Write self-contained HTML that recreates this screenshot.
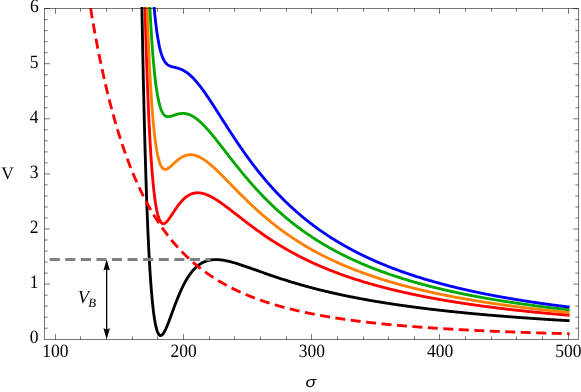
<!DOCTYPE html>
<html><head><meta charset="utf-8"><title>V(sigma)</title>
<style>
html,body{margin:0;padding:0;background:#fff;}
body{width:581px;height:392px;overflow:hidden;}
svg{display:block;}
text{font-family:"Liberation Serif",serif;fill:#000;text-rendering:geometricPrecision;}
#txt{filter:grayscale(1);}
.tl{font-size:18.8px;}
</style></head><body>
<svg width="581" height="392" viewBox="0 0 581 392">
<rect x="0" y="0" width="581" height="392" fill="#ffffff"/>
<defs><clipPath id="cp"><rect x="44.50" y="7.10" width="534.00" height="332.40"/></clipPath></defs>
<g clip-path="url(#cp)" fill="none" stroke-linejoin="round" stroke-linecap="butt">
<path d="M141.38 -23.76 L142.12 18.39 L142.85 56.41 L143.59 90.65 L144.32 121.44 L145.06 149.07 L145.80 173.81 L146.53 195.92 L147.27 215.62 L148.00 233.14 L148.74 248.65 L149.47 262.36 L150.21 274.41 L150.95 284.96 L151.68 294.16 L152.42 302.12 L153.15 308.97 L153.89 314.82 L154.62 319.75 L155.36 323.86 L156.10 327.23 L156.83 329.94 L157.57 332.04 L158.30 333.59 L159.04 334.66 L159.78 335.29 L160.51 335.52 L161.25 335.40 L161.98 334.96 L162.72 334.25 L163.45 333.29 L164.19 332.12 L164.93 330.77 L165.66 329.26 L166.40 327.63 L167.13 325.88 L167.87 324.05 L168.60 322.16 L169.34 320.21 L170.08 318.23 L170.81 316.23 L171.55 314.22 L172.28 312.21 L173.02 310.21 L173.75 308.22 L174.49 306.26 L175.23 304.31 L175.96 302.40 L176.70 300.52 L177.43 298.68 L178.17 296.87 L178.90 295.11 L179.64 293.39 L180.38 291.71 L181.11 290.08 L181.85 288.50 L182.58 286.96 L183.32 285.47 L184.05 284.04 L184.79 282.65 L185.53 281.31 L186.26 280.02 L187.00 278.77 L187.73 277.58 L188.47 276.43 L189.20 275.34 L189.94 274.28 L190.68 273.28 L191.41 272.32 L192.15 271.40 L192.88 270.53 L193.62 269.70 L194.35 268.91 L195.09 268.16 L195.83 267.46 L196.56 266.79 L197.30 266.15 L198.03 265.56 L198.77 265.00 L199.51 264.47 L200.24 263.98 L200.98 263.51 L201.71 263.08 L202.45 262.68 L203.18 262.31 L203.92 261.97 L204.66 261.65 L205.39 261.37 L206.13 261.10 L206.86 260.86 L207.60 260.65 L208.33 260.45 L209.07 260.28 L209.81 260.13 L210.54 260.00 L211.28 259.89 L212.01 259.80 L212.75 259.72 L213.48 259.66 L214.22 259.62 L214.96 259.60 L215.69 259.59 L216.43 259.59 L217.16 259.61 L217.90 259.64 L218.63 259.69 L219.37 259.75 L220.11 259.82 L220.84 259.90 L221.58 259.99 L222.31 260.09 L223.05 260.20 L223.78 260.32 L224.52 260.44 L225.26 260.58 L225.99 260.73 L226.73 260.88 L227.46 261.04 L228.20 261.20 L228.93 261.38 L229.67 261.56 L230.41 261.74 L231.14 261.93 L231.88 262.13 L232.61 262.33 L233.35 262.54 L234.08 262.75 L234.82 262.96 L235.56 263.18 L236.29 263.40 L237.03 263.63 L237.76 263.86 L238.50 264.09 L239.24 264.32 L239.97 264.56 L240.71 264.80 L241.44 265.04 L242.18 265.29 L242.91 265.53 L243.65 265.78 L244.39 266.03 L245.12 266.28 L245.86 266.54 L246.59 266.79 L247.33 267.05 L248.06 267.30 L248.80 267.56 L249.54 267.82 L250.27 268.08 L251.01 268.34 L251.74 268.60 L252.48 268.86 L253.21 269.12 L253.95 269.38 L254.69 269.64 L255.42 269.91 L256.16 270.17 L256.89 270.43 L257.63 270.69 L258.36 270.95 L259.10 271.22 L259.84 271.48 L260.57 271.74 L261.31 272.00 L262.04 272.26 L262.78 272.52 L263.51 272.78 L264.25 273.04 L264.99 273.30 L265.72 273.55 L266.46 273.81 L267.19 274.07 L267.93 274.32 L268.66 274.58 L269.40 274.83 L270.14 275.09 L270.87 275.34 L271.61 275.59 L272.34 275.84 L273.08 276.09 L273.81 276.34 L274.55 276.59 L275.29 276.84 L276.02 277.08 L276.76 277.33 L277.49 277.57 L278.23 277.82 L278.97 278.06 L279.70 278.30 L280.44 278.54 L281.17 278.78 L281.91 279.02 L282.64 279.26 L283.38 279.50 L284.12 279.73 L284.85 279.97 L285.59 280.20 L286.32 280.43 L287.06 280.66 L287.79 280.89 L288.53 281.12 L289.27 281.35 L290.00 281.58 L290.74 281.80 L291.47 282.03 L292.21 282.25 L292.94 282.47 L293.68 282.69 L294.42 282.91 L295.15 283.13 L295.89 283.35 L296.62 283.57 L297.36 283.78 L298.09 284.00 L298.83 284.21 L299.57 284.42 L300.30 284.63 L301.04 284.85 L301.77 285.05 L302.51 285.26 L303.24 285.47 L303.98 285.68 L304.72 285.88 L305.45 286.08 L306.19 286.29 L306.92 286.49 L307.66 286.69 L308.39 286.89 L309.13 287.09 L309.87 287.29 L310.60 287.48 L311.34 287.68 L312.07 287.87 L312.81 288.07 L313.54 288.26 L314.28 288.45 L315.02 288.64 L315.75 288.83 L316.49 289.02 L317.22 289.20 L317.96 289.39 L318.70 289.58 L319.43 289.76 L320.17 289.94 L320.90 290.13 L321.64 290.31 L322.37 290.49 L323.11 290.67 L323.85 290.85 L324.58 291.02 L325.32 291.20 L326.05 291.38 L326.79 291.55 L327.52 291.73 L328.26 291.90 L329.00 292.07 L329.73 292.24 L330.47 292.41 L331.20 292.58 L331.94 292.75 L332.67 292.92 L333.41 293.08 L334.15 293.25 L334.88 293.42 L335.62 293.58 L336.35 293.74 L337.09 293.90 L337.82 294.07 L338.56 294.23 L339.30 294.39 L340.03 294.55 L340.77 294.70 L341.50 294.86 L342.24 295.02 L342.97 295.17 L343.71 295.33 L344.45 295.48 L345.18 295.64 L345.92 295.79 L346.65 295.94 L347.39 296.09 L348.12 296.24 L348.86 296.39 L349.60 296.54 L350.33 296.69 L351.07 296.83 L351.80 296.98 L352.54 297.13 L353.27 297.27 L354.01 297.42 L354.75 297.56 L355.48 297.70 L356.22 297.84 L356.95 297.99 L357.69 298.13 L358.43 298.27 L359.16 298.40 L359.90 298.54 L360.63 298.68 L361.37 298.82 L362.10 298.95 L362.84 299.09 L363.58 299.22 L364.31 299.36 L365.05 299.49 L365.78 299.63 L366.52 299.76 L367.25 299.89 L367.99 300.02 L368.73 300.15 L369.46 300.28 L370.20 300.41 L370.93 300.54 L371.67 300.67 L372.40 300.79 L373.14 300.92 L373.88 301.04 L374.61 301.17 L375.35 301.29 L376.08 301.42 L376.82 301.54 L377.55 301.67 L378.29 301.79 L379.03 301.91 L379.76 302.03 L380.50 302.15 L381.23 302.27 L381.97 302.39 L382.70 302.51 L383.44 302.63 L384.18 302.74 L384.91 302.86 L385.65 302.98 L386.38 303.09 L387.12 303.21 L387.85 303.32 L388.59 303.44 L389.33 303.55 L390.06 303.66 L390.80 303.78 L391.53 303.89 L392.27 304.00 L393.00 304.11 L393.74 304.22 L394.48 304.33 L395.21 304.44 L395.95 304.55 L396.68 304.66 L397.42 304.77 L398.16 304.87 L398.89 304.98 L399.63 305.09 L400.36 305.19 L401.10 305.30 L401.83 305.40 L402.57 305.51 L403.31 305.61 L404.04 305.72 L404.78 305.82 L405.51 305.92 L406.25 306.02 L406.98 306.13 L407.72 306.23 L408.46 306.33 L409.19 306.43 L409.93 306.53 L410.66 306.63 L411.40 306.73 L412.13 306.82 L412.87 306.92 L413.61 307.02 L414.34 307.12 L415.08 307.21 L415.81 307.31 L416.55 307.41 L417.28 307.50 L418.02 307.60 L418.76 307.69 L419.49 307.78 L420.23 307.88 L420.96 307.97 L421.70 308.06 L422.43 308.16 L423.17 308.25 L423.91 308.34 L424.64 308.43 L425.38 308.52 L426.11 308.61 L426.85 308.70 L427.58 308.79 L428.32 308.88 L429.06 308.97 L429.79 309.06 L430.53 309.15 L431.26 309.23 L432.00 309.32 L432.73 309.41 L433.47 309.49 L434.21 309.58 L434.94 309.67 L435.68 309.75 L436.41 309.84 L437.15 309.92 L437.88 310.01 L438.62 310.09 L439.36 310.17 L440.09 310.26 L440.83 310.34 L441.56 310.42 L442.30 310.50 L443.04 310.59 L443.77 310.67 L444.51 310.75 L445.24 310.83 L445.98 310.91 L446.71 310.99 L447.45 311.07 L448.19 311.15 L448.92 311.23 L449.66 311.31 L450.39 311.38 L451.13 311.46 L451.86 311.54 L452.60 311.62 L453.34 311.69 L454.07 311.77 L454.81 311.85 L455.54 311.92 L456.28 312.00 L457.01 312.08 L457.75 312.15 L458.49 312.23 L459.22 312.30 L459.96 312.37 L460.69 312.45 L461.43 312.52 L462.16 312.60 L462.90 312.67 L463.64 312.74 L464.37 312.81 L465.11 312.89 L465.84 312.96 L466.58 313.03 L467.31 313.10 L468.05 313.17 L468.79 313.24 L469.52 313.31 L470.26 313.38 L470.99 313.45 L471.73 313.52 L472.46 313.59 L473.20 313.66 L473.94 313.73 L474.67 313.80 L475.41 313.86 L476.14 313.93 L476.88 314.00 L477.61 314.07 L478.35 314.13 L479.09 314.20 L479.82 314.27 L480.56 314.33 L481.29 314.40 L482.03 314.47 L482.77 314.53 L483.50 314.60 L484.24 314.66 L484.97 314.73 L485.71 314.79 L486.44 314.85 L487.18 314.92 L487.92 314.98 L488.65 315.05 L489.39 315.11 L490.12 315.17 L490.86 315.23 L491.59 315.30 L492.33 315.36 L493.07 315.42 L493.80 315.48 L494.54 315.54 L495.27 315.61 L496.01 315.67 L496.74 315.73 L497.48 315.79 L498.22 315.85 L498.95 315.91 L499.69 315.97 L500.42 316.03 L501.16 316.09 L501.89 316.15 L502.63 316.20 L503.37 316.26 L504.10 316.32 L504.84 316.38 L505.57 316.44 L506.31 316.50 L507.04 316.55 L507.78 316.61 L508.52 316.67 L509.25 316.72 L509.99 316.78 L510.72 316.84 L511.46 316.89 L512.19 316.95 L512.93 317.01 L513.67 317.06 L514.40 317.12 L515.14 317.17 L515.87 317.23 L516.61 317.28 L517.34 317.34 L518.08 317.39 L518.82 317.45 L519.55 317.50 L520.29 317.55 L521.02 317.61 L521.76 317.66 L522.50 317.71 L523.23 317.77 L523.97 317.82 L524.70 317.87 L525.44 317.92 L526.17 317.98 L526.91 318.03 L527.65 318.08 L528.38 318.13 L529.12 318.18 L529.85 318.23 L530.59 318.29 L531.32 318.34 L532.06 318.39 L532.80 318.44 L533.53 318.49 L534.27 318.54 L535.00 318.59 L535.74 318.64 L536.47 318.69 L537.21 318.74 L537.95 318.79 L538.68 318.84 L539.42 318.88 L540.15 318.93 L540.89 318.98 L541.62 319.03 L542.36 319.08 L543.10 319.13 L543.83 319.17 L544.57 319.22 L545.30 319.27 L546.04 319.32 L546.77 319.36 L547.51 319.41 L548.25 319.46 L548.98 319.50 L549.72 319.55 L550.45 319.60 L551.19 319.64 L551.92 319.69 L552.66 319.74 L553.40 319.78 L554.13 319.83 L554.87 319.87 L555.60 319.92 L556.34 319.96 L557.07 320.01 L557.81 320.05 L558.55 320.10 L559.28 320.14 L560.02 320.19 L560.75 320.23 L561.49 320.27 L562.23 320.32 L562.96 320.36 L563.70 320.40 L564.43 320.45 L565.17 320.49 L565.90 320.53 L566.64 320.58 L567.38 320.62 L568.11 320.66 L568.85 320.70 L569.58 320.75" stroke="#000000" stroke-width="2.85"/>
<path d="M144.32 -19.73 L145.06 9.33 L145.80 35.47 L146.53 58.97 L147.27 80.04 L148.00 98.90 L148.74 115.75 L149.47 130.77 L150.21 144.12 L150.95 155.95 L151.68 166.41 L152.42 175.62 L153.15 183.71 L153.89 190.76 L154.62 196.90 L155.36 202.19 L156.10 206.73 L156.83 210.59 L157.57 213.83 L158.30 216.51 L159.04 218.68 L159.78 220.41 L160.51 221.72 L161.25 222.67 L161.98 223.29 L162.72 223.62 L163.45 223.70 L164.19 223.54 L164.93 223.20 L165.66 222.68 L166.40 222.02 L167.13 221.24 L167.87 220.37 L168.60 219.42 L169.34 218.41 L170.08 217.35 L170.81 216.26 L171.55 215.15 L172.28 214.03 L173.02 212.91 L173.75 211.79 L174.49 210.68 L175.23 209.59 L175.96 208.51 L176.70 207.46 L177.43 206.43 L178.17 205.44 L178.90 204.47 L179.64 203.54 L180.38 202.64 L181.11 201.78 L181.85 200.96 L182.58 200.18 L183.32 199.44 L184.05 198.74 L184.79 198.08 L185.53 197.46 L186.26 196.88 L187.00 196.34 L187.73 195.84 L188.47 195.38 L189.20 194.97 L189.94 194.59 L190.68 194.25 L191.41 193.95 L192.15 193.68 L192.88 193.45 L193.62 193.26 L194.35 193.10 L195.09 192.97 L195.83 192.88 L196.56 192.82 L197.30 192.79 L198.03 192.79 L198.77 192.82 L199.51 192.87 L200.24 192.96 L200.98 193.07 L201.71 193.20 L202.45 193.36 L203.18 193.54 L203.92 193.75 L204.66 193.97 L205.39 194.22 L206.13 194.48 L206.86 194.77 L207.60 195.07 L208.33 195.39 L209.07 195.73 L209.81 196.08 L210.54 196.45 L211.28 196.83 L212.01 197.22 L212.75 197.63 L213.48 198.05 L214.22 198.48 L214.96 198.92 L215.69 199.38 L216.43 199.84 L217.16 200.31 L217.90 200.79 L218.63 201.28 L219.37 201.78 L220.11 202.28 L220.84 202.79 L221.58 203.31 L222.31 203.83 L223.05 204.36 L223.78 204.90 L224.52 205.44 L225.26 205.98 L225.99 206.53 L226.73 207.08 L227.46 207.63 L228.20 208.19 L228.93 208.75 L229.67 209.31 L230.41 209.87 L231.14 210.44 L231.88 211.01 L232.61 211.58 L233.35 212.15 L234.08 212.72 L234.82 213.29 L235.56 213.86 L236.29 214.44 L237.03 215.01 L237.76 215.58 L238.50 216.16 L239.24 216.73 L239.97 217.30 L240.71 217.87 L241.44 218.45 L242.18 219.02 L242.91 219.58 L243.65 220.15 L244.39 220.72 L245.12 221.29 L245.86 221.85 L246.59 222.41 L247.33 222.97 L248.06 223.53 L248.80 224.09 L249.54 224.64 L250.27 225.20 L251.01 225.75 L251.74 226.30 L252.48 226.84 L253.21 227.39 L253.95 227.93 L254.69 228.47 L255.42 229.01 L256.16 229.55 L256.89 230.08 L257.63 230.61 L258.36 231.14 L259.10 231.66 L259.84 232.19 L260.57 232.71 L261.31 233.23 L262.04 233.74 L262.78 234.25 L263.51 234.76 L264.25 235.27 L264.99 235.78 L265.72 236.28 L266.46 236.78 L267.19 237.27 L267.93 237.77 L268.66 238.26 L269.40 238.75 L270.14 239.23 L270.87 239.71 L271.61 240.19 L272.34 240.67 L273.08 241.14 L273.81 241.62 L274.55 242.08 L275.29 242.55 L276.02 243.01 L276.76 243.47 L277.49 243.93 L278.23 244.39 L278.97 244.84 L279.70 245.29 L280.44 245.73 L281.17 246.18 L281.91 246.62 L282.64 247.06 L283.38 247.49 L284.12 247.92 L284.85 248.35 L285.59 248.78 L286.32 249.21 L287.06 249.63 L287.79 250.05 L288.53 250.46 L289.27 250.88 L290.00 251.29 L290.74 251.70 L291.47 252.11 L292.21 252.51 L292.94 252.91 L293.68 253.31 L294.42 253.71 L295.15 254.10 L295.89 254.49 L296.62 254.88 L297.36 255.27 L298.09 255.65 L298.83 256.03 L299.57 256.41 L300.30 256.79 L301.04 257.16 L301.77 257.54 L302.51 257.91 L303.24 258.27 L303.98 258.64 L304.72 259.00 L305.45 259.36 L306.19 259.72 L306.92 260.07 L307.66 260.43 L308.39 260.78 L309.13 261.13 L309.87 261.48 L310.60 261.82 L311.34 262.16 L312.07 262.50 L312.81 262.84 L313.54 263.18 L314.28 263.51 L315.02 263.84 L315.75 264.17 L316.49 264.50 L317.22 264.83 L317.96 265.15 L318.70 265.47 L319.43 265.79 L320.17 266.11 L320.90 266.43 L321.64 266.74 L322.37 267.05 L323.11 267.36 L323.85 267.67 L324.58 267.98 L325.32 268.28 L326.05 268.58 L326.79 268.88 L327.52 269.18 L328.26 269.48 L329.00 269.77 L329.73 270.07 L330.47 270.36 L331.20 270.65 L331.94 270.93 L332.67 271.22 L333.41 271.51 L334.15 271.79 L334.88 272.07 L335.62 272.35 L336.35 272.63 L337.09 272.90 L337.82 273.18 L338.56 273.45 L339.30 273.72 L340.03 273.99 L340.77 274.26 L341.50 274.52 L342.24 274.79 L342.97 275.05 L343.71 275.31 L344.45 275.57 L345.18 275.83 L345.92 276.09 L346.65 276.34 L347.39 276.59 L348.12 276.85 L348.86 277.10 L349.60 277.35 L350.33 277.59 L351.07 277.84 L351.80 278.09 L352.54 278.33 L353.27 278.57 L354.01 278.81 L354.75 279.05 L355.48 279.29 L356.22 279.53 L356.95 279.76 L357.69 279.99 L358.43 280.23 L359.16 280.46 L359.90 280.69 L360.63 280.92 L361.37 281.14 L362.10 281.37 L362.84 281.59 L363.58 281.82 L364.31 282.04 L365.05 282.26 L365.78 282.48 L366.52 282.70 L367.25 282.91 L367.99 283.13 L368.73 283.34 L369.46 283.56 L370.20 283.77 L370.93 283.98 L371.67 284.19 L372.40 284.40 L373.14 284.61 L373.88 284.81 L374.61 285.02 L375.35 285.22 L376.08 285.43 L376.82 285.63 L377.55 285.83 L378.29 286.03 L379.03 286.23 L379.76 286.42 L380.50 286.62 L381.23 286.82 L381.97 287.01 L382.70 287.20 L383.44 287.39 L384.18 287.59 L384.91 287.78 L385.65 287.96 L386.38 288.15 L387.12 288.34 L387.85 288.53 L388.59 288.71 L389.33 288.89 L390.06 289.08 L390.80 289.26 L391.53 289.44 L392.27 289.62 L393.00 289.80 L393.74 289.98 L394.48 290.15 L395.21 290.33 L395.95 290.51 L396.68 290.68 L397.42 290.85 L398.16 291.03 L398.89 291.20 L399.63 291.37 L400.36 291.54 L401.10 291.71 L401.83 291.88 L402.57 292.04 L403.31 292.21 L404.04 292.37 L404.78 292.54 L405.51 292.70 L406.25 292.87 L406.98 293.03 L407.72 293.19 L408.46 293.35 L409.19 293.51 L409.93 293.67 L410.66 293.83 L411.40 293.98 L412.13 294.14 L412.87 294.29 L413.61 294.45 L414.34 294.60 L415.08 294.76 L415.81 294.91 L416.55 295.06 L417.28 295.21 L418.02 295.36 L418.76 295.51 L419.49 295.66 L420.23 295.81 L420.96 295.95 L421.70 296.10 L422.43 296.25 L423.17 296.39 L423.91 296.54 L424.64 296.68 L425.38 296.82 L426.11 296.96 L426.85 297.10 L427.58 297.25 L428.32 297.39 L429.06 297.52 L429.79 297.66 L430.53 297.80 L431.26 297.94 L432.00 298.07 L432.73 298.21 L433.47 298.35 L434.21 298.48 L434.94 298.61 L435.68 298.75 L436.41 298.88 L437.15 299.01 L437.88 299.14 L438.62 299.27 L439.36 299.40 L440.09 299.53 L440.83 299.66 L441.56 299.79 L442.30 299.92 L443.04 300.05 L443.77 300.17 L444.51 300.30 L445.24 300.42 L445.98 300.55 L446.71 300.67 L447.45 300.79 L448.19 300.92 L448.92 301.04 L449.66 301.16 L450.39 301.28 L451.13 301.40 L451.86 301.52 L452.60 301.64 L453.34 301.76 L454.07 301.88 L454.81 302.00 L455.54 302.11 L456.28 302.23 L457.01 302.35 L457.75 302.46 L458.49 302.58 L459.22 302.69 L459.96 302.81 L460.69 302.92 L461.43 303.03 L462.16 303.15 L462.90 303.26 L463.64 303.37 L464.37 303.48 L465.11 303.59 L465.84 303.70 L466.58 303.81 L467.31 303.92 L468.05 304.03 L468.79 304.13 L469.52 304.24 L470.26 304.35 L470.99 304.45 L471.73 304.56 L472.46 304.67 L473.20 304.77 L473.94 304.88 L474.67 304.98 L475.41 305.08 L476.14 305.19 L476.88 305.29 L477.61 305.39 L478.35 305.49 L479.09 305.59 L479.82 305.69 L480.56 305.80 L481.29 305.90 L482.03 305.99 L482.77 306.09 L483.50 306.19 L484.24 306.29 L484.97 306.39 L485.71 306.49 L486.44 306.58 L487.18 306.68 L487.92 306.77 L488.65 306.87 L489.39 306.97 L490.12 307.06 L490.86 307.15 L491.59 307.25 L492.33 307.34 L493.07 307.44 L493.80 307.53 L494.54 307.62 L495.27 307.71 L496.01 307.80 L496.74 307.90 L497.48 307.99 L498.22 308.08 L498.95 308.17 L499.69 308.26 L500.42 308.35 L501.16 308.43 L501.89 308.52 L502.63 308.61 L503.37 308.70 L504.10 308.79 L504.84 308.87 L505.57 308.96 L506.31 309.05 L507.04 309.13 L507.78 309.22 L508.52 309.30 L509.25 309.39 L509.99 309.47 L510.72 309.56 L511.46 309.64 L512.19 309.72 L512.93 309.81 L513.67 309.89 L514.40 309.97 L515.14 310.05 L515.87 310.13 L516.61 310.22 L517.34 310.30 L518.08 310.38 L518.82 310.46 L519.55 310.54 L520.29 310.62 L521.02 310.70 L521.76 310.78 L522.50 310.85 L523.23 310.93 L523.97 311.01 L524.70 311.09 L525.44 311.17 L526.17 311.24 L526.91 311.32 L527.65 311.40 L528.38 311.47 L529.12 311.55 L529.85 311.62 L530.59 311.70 L531.32 311.77 L532.06 311.85 L532.80 311.92 L533.53 312.00 L534.27 312.07 L535.00 312.14 L535.74 312.22 L536.47 312.29 L537.21 312.36 L537.95 312.44 L538.68 312.51 L539.42 312.58 L540.15 312.65 L540.89 312.72 L541.62 312.79 L542.36 312.86 L543.10 312.93 L543.83 313.00 L544.57 313.07 L545.30 313.14 L546.04 313.21 L546.77 313.28 L547.51 313.35 L548.25 313.42 L548.98 313.49 L549.72 313.55 L550.45 313.62 L551.19 313.69 L551.92 313.75 L552.66 313.82 L553.40 313.89 L554.13 313.95 L554.87 314.02 L555.60 314.09 L556.34 314.15 L557.07 314.22 L557.81 314.28 L558.55 314.35 L559.28 314.41 L560.02 314.48 L560.75 314.54 L561.49 314.60 L562.23 314.67 L562.96 314.73 L563.70 314.79 L564.43 314.86 L565.17 314.92 L565.90 314.98 L566.64 315.04 L567.38 315.10 L568.11 315.17 L568.85 315.23 L569.58 315.29" stroke="#ff0000" stroke-width="2.85"/>
<path d="M146.53 -9.51 L147.27 12.25 L148.00 31.78 L148.74 49.30 L149.47 64.97 L150.21 78.97 L150.95 91.45 L151.68 102.54 L152.42 112.37 L153.15 121.07 L153.89 128.74 L154.62 135.47 L155.36 141.36 L156.10 146.48 L156.83 150.91 L157.57 154.72 L158.30 157.97 L159.04 160.70 L159.78 162.97 L160.51 164.83 L161.25 166.31 L161.98 167.46 L162.72 168.31 L163.45 168.90 L164.19 169.25 L164.93 169.41 L165.66 169.39 L166.40 169.22 L167.13 168.93 L167.87 168.53 L168.60 168.05 L169.34 167.51 L170.08 166.91 L170.81 166.28 L171.55 165.62 L172.28 164.94 L173.02 164.26 L173.75 163.57 L174.49 162.89 L175.23 162.22 L175.96 161.56 L176.70 160.93 L177.43 160.31 L178.17 159.72 L178.90 159.15 L179.64 158.61 L180.38 158.11 L181.11 157.64 L181.85 157.20 L182.58 156.79 L183.32 156.42 L184.05 156.09 L184.79 155.79 L185.53 155.53 L186.26 155.31 L187.00 155.12 L187.73 154.97 L188.47 154.86 L189.20 154.78 L189.94 154.74 L190.68 154.73 L191.41 154.76 L192.15 154.82 L192.88 154.91 L193.62 155.04 L194.35 155.19 L195.09 155.38 L195.83 155.59 L196.56 155.84 L197.30 156.11 L198.03 156.41 L198.77 156.73 L199.51 157.08 L200.24 157.45 L200.98 157.84 L201.71 158.26 L202.45 158.70 L203.18 159.16 L203.92 159.63 L204.66 160.13 L205.39 160.64 L206.13 161.17 L206.86 161.72 L207.60 162.28 L208.33 162.86 L209.07 163.45 L209.81 164.05 L210.54 164.67 L211.28 165.30 L212.01 165.93 L212.75 166.58 L213.48 167.24 L214.22 167.91 L214.96 168.59 L215.69 169.27 L216.43 169.96 L217.16 170.66 L217.90 171.37 L218.63 172.08 L219.37 172.79 L220.11 173.52 L220.84 174.24 L221.58 174.97 L222.31 175.71 L223.05 176.45 L223.78 177.19 L224.52 177.93 L225.26 178.68 L225.99 179.43 L226.73 180.18 L227.46 180.93 L228.20 181.68 L228.93 182.43 L229.67 183.19 L230.41 183.94 L231.14 184.69 L231.88 185.45 L232.61 186.20 L233.35 186.95 L234.08 187.71 L234.82 188.46 L235.56 189.21 L236.29 189.96 L237.03 190.70 L237.76 191.45 L238.50 192.19 L239.24 192.93 L239.97 193.67 L240.71 194.41 L241.44 195.15 L242.18 195.88 L242.91 196.61 L243.65 197.34 L244.39 198.06 L245.12 198.79 L245.86 199.51 L246.59 200.22 L247.33 200.94 L248.06 201.65 L248.80 202.35 L249.54 203.06 L250.27 203.76 L251.01 204.45 L251.74 205.15 L252.48 205.84 L253.21 206.52 L253.95 207.21 L254.69 207.89 L255.42 208.56 L256.16 209.24 L256.89 209.91 L257.63 210.57 L258.36 211.23 L259.10 211.89 L259.84 212.54 L260.57 213.19 L261.31 213.84 L262.04 214.48 L262.78 215.12 L263.51 215.76 L264.25 216.39 L264.99 217.02 L265.72 217.64 L266.46 218.26 L267.19 218.88 L267.93 219.49 L268.66 220.10 L269.40 220.70 L270.14 221.30 L270.87 221.90 L271.61 222.49 L272.34 223.08 L273.08 223.67 L273.81 224.25 L274.55 224.83 L275.29 225.41 L276.02 225.98 L276.76 226.54 L277.49 227.11 L278.23 227.67 L278.97 228.23 L279.70 228.78 L280.44 229.33 L281.17 229.87 L281.91 230.42 L282.64 230.95 L283.38 231.49 L284.12 232.02 L284.85 232.55 L285.59 233.07 L286.32 233.59 L287.06 234.11 L287.79 234.63 L288.53 235.14 L289.27 235.64 L290.00 236.15 L290.74 236.65 L291.47 237.15 L292.21 237.64 L292.94 238.13 L293.68 238.62 L294.42 239.10 L295.15 239.59 L295.89 240.06 L296.62 240.54 L297.36 241.01 L298.09 241.48 L298.83 241.94 L299.57 242.41 L300.30 242.87 L301.04 243.32 L301.77 243.78 L302.51 244.23 L303.24 244.67 L303.98 245.12 L304.72 245.56 L305.45 246.00 L306.19 246.43 L306.92 246.87 L307.66 247.30 L308.39 247.72 L309.13 248.15 L309.87 248.57 L310.60 248.99 L311.34 249.41 L312.07 249.82 L312.81 250.23 L313.54 250.64 L314.28 251.04 L315.02 251.45 L315.75 251.85 L316.49 252.24 L317.22 252.64 L317.96 253.03 L318.70 253.42 L319.43 253.81 L320.17 254.19 L320.90 254.58 L321.64 254.96 L322.37 255.33 L323.11 255.71 L323.85 256.08 L324.58 256.45 L325.32 256.82 L326.05 257.18 L326.79 257.55 L327.52 257.91 L328.26 258.27 L329.00 258.62 L329.73 258.98 L330.47 259.33 L331.20 259.68 L331.94 260.03 L332.67 260.37 L333.41 260.72 L334.15 261.06 L334.88 261.40 L335.62 261.73 L336.35 262.07 L337.09 262.40 L337.82 262.73 L338.56 263.06 L339.30 263.39 L340.03 263.71 L340.77 264.03 L341.50 264.35 L342.24 264.67 L342.97 264.99 L343.71 265.30 L344.45 265.61 L345.18 265.93 L345.92 266.23 L346.65 266.54 L347.39 266.85 L348.12 267.15 L348.86 267.45 L349.60 267.75 L350.33 268.05 L351.07 268.34 L351.80 268.64 L352.54 268.93 L353.27 269.22 L354.01 269.51 L354.75 269.80 L355.48 270.08 L356.22 270.37 L356.95 270.65 L357.69 270.93 L358.43 271.21 L359.16 271.48 L359.90 271.76 L360.63 272.03 L361.37 272.31 L362.10 272.58 L362.84 272.85 L363.58 273.11 L364.31 273.38 L365.05 273.64 L365.78 273.91 L366.52 274.17 L367.25 274.43 L367.99 274.69 L368.73 274.94 L369.46 275.20 L370.20 275.45 L370.93 275.70 L371.67 275.95 L372.40 276.20 L373.14 276.45 L373.88 276.70 L374.61 276.94 L375.35 277.19 L376.08 277.43 L376.82 277.67 L377.55 277.91 L378.29 278.15 L379.03 278.38 L379.76 278.62 L380.50 278.85 L381.23 279.09 L381.97 279.32 L382.70 279.55 L383.44 279.78 L384.18 280.01 L384.91 280.23 L385.65 280.46 L386.38 280.68 L387.12 280.90 L387.85 281.13 L388.59 281.35 L389.33 281.57 L390.06 281.78 L390.80 282.00 L391.53 282.22 L392.27 282.43 L393.00 282.64 L393.74 282.85 L394.48 283.07 L395.21 283.27 L395.95 283.48 L396.68 283.69 L397.42 283.90 L398.16 284.10 L398.89 284.31 L399.63 284.51 L400.36 284.71 L401.10 284.91 L401.83 285.11 L402.57 285.31 L403.31 285.51 L404.04 285.70 L404.78 285.90 L405.51 286.09 L406.25 286.29 L406.98 286.48 L407.72 286.67 L408.46 286.86 L409.19 287.05 L409.93 287.24 L410.66 287.42 L411.40 287.61 L412.13 287.80 L412.87 287.98 L413.61 288.16 L414.34 288.35 L415.08 288.53 L415.81 288.71 L416.55 288.89 L417.28 289.07 L418.02 289.24 L418.76 289.42 L419.49 289.60 L420.23 289.77 L420.96 289.95 L421.70 290.12 L422.43 290.29 L423.17 290.46 L423.91 290.63 L424.64 290.80 L425.38 290.97 L426.11 291.14 L426.85 291.31 L427.58 291.47 L428.32 291.64 L429.06 291.80 L429.79 291.97 L430.53 292.13 L431.26 292.29 L432.00 292.45 L432.73 292.61 L433.47 292.77 L434.21 292.93 L434.94 293.09 L435.68 293.25 L436.41 293.40 L437.15 293.56 L437.88 293.71 L438.62 293.87 L439.36 294.02 L440.09 294.17 L440.83 294.32 L441.56 294.48 L442.30 294.63 L443.04 294.78 L443.77 294.92 L444.51 295.07 L445.24 295.22 L445.98 295.37 L446.71 295.51 L447.45 295.66 L448.19 295.80 L448.92 295.95 L449.66 296.09 L450.39 296.23 L451.13 296.37 L451.86 296.51 L452.60 296.66 L453.34 296.79 L454.07 296.93 L454.81 297.07 L455.54 297.21 L456.28 297.35 L457.01 297.48 L457.75 297.62 L458.49 297.75 L459.22 297.89 L459.96 298.02 L460.69 298.16 L461.43 298.29 L462.16 298.42 L462.90 298.55 L463.64 298.68 L464.37 298.81 L465.11 298.94 L465.84 299.07 L466.58 299.20 L467.31 299.33 L468.05 299.45 L468.79 299.58 L469.52 299.71 L470.26 299.83 L470.99 299.96 L471.73 300.08 L472.46 300.20 L473.20 300.33 L473.94 300.45 L474.67 300.57 L475.41 300.69 L476.14 300.81 L476.88 300.93 L477.61 301.05 L478.35 301.17 L479.09 301.29 L479.82 301.41 L480.56 301.53 L481.29 301.64 L482.03 301.76 L482.77 301.87 L483.50 301.99 L484.24 302.11 L484.97 302.22 L485.71 302.33 L486.44 302.45 L487.18 302.56 L487.92 302.67 L488.65 302.78 L489.39 302.89 L490.12 303.01 L490.86 303.12 L491.59 303.23 L492.33 303.33 L493.07 303.44 L493.80 303.55 L494.54 303.66 L495.27 303.77 L496.01 303.87 L496.74 303.98 L497.48 304.09 L498.22 304.19 L498.95 304.30 L499.69 304.40 L500.42 304.50 L501.16 304.61 L501.89 304.71 L502.63 304.81 L503.37 304.92 L504.10 305.02 L504.84 305.12 L505.57 305.22 L506.31 305.32 L507.04 305.42 L507.78 305.52 L508.52 305.62 L509.25 305.72 L509.99 305.82 L510.72 305.91 L511.46 306.01 L512.19 306.11 L512.93 306.21 L513.67 306.30 L514.40 306.40 L515.14 306.49 L515.87 306.59 L516.61 306.68 L517.34 306.78 L518.08 306.87 L518.82 306.96 L519.55 307.06 L520.29 307.15 L521.02 307.24 L521.76 307.33 L522.50 307.43 L523.23 307.52 L523.97 307.61 L524.70 307.70 L525.44 307.79 L526.17 307.88 L526.91 307.97 L527.65 308.05 L528.38 308.14 L529.12 308.23 L529.85 308.32 L530.59 308.41 L531.32 308.49 L532.06 308.58 L532.80 308.67 L533.53 308.75 L534.27 308.84 L535.00 308.92 L535.74 309.01 L536.47 309.09 L537.21 309.18 L537.95 309.26 L538.68 309.34 L539.42 309.43 L540.15 309.51 L540.89 309.59 L541.62 309.67 L542.36 309.75 L543.10 309.84 L543.83 309.92 L544.57 310.00 L545.30 310.08 L546.04 310.16 L546.77 310.24 L547.51 310.32 L548.25 310.40 L548.98 310.48 L549.72 310.55 L550.45 310.63 L551.19 310.71 L551.92 310.79 L552.66 310.86 L553.40 310.94 L554.13 311.02 L554.87 311.09 L555.60 311.17 L556.34 311.25 L557.07 311.32 L557.81 311.40 L558.55 311.47 L559.28 311.55 L560.02 311.62 L560.75 311.69 L561.49 311.77 L562.23 311.84 L562.96 311.91 L563.70 311.99 L564.43 312.06 L565.17 312.13 L565.90 312.20 L566.64 312.28 L567.38 312.35 L568.11 312.42 L568.85 312.49 L569.58 312.56" stroke="#ff8000" stroke-width="2.85"/>
<path d="M148.74 -17.15 L149.47 -0.82 L150.21 13.83 L150.95 26.94 L151.68 38.66 L152.42 49.12 L153.15 58.44 L153.89 66.71 L154.62 74.04 L155.36 80.52 L156.10 86.23 L156.83 91.24 L157.57 95.62 L158.30 99.42 L159.04 102.71 L159.78 105.53 L160.51 107.93 L161.25 109.95 L161.98 111.62 L162.72 113.00 L163.45 114.10 L164.19 114.96 L164.93 115.62 L165.66 116.10 L166.40 116.42 L167.13 116.61 L167.87 116.69 L168.60 116.68 L169.34 116.61 L170.08 116.47 L170.81 116.29 L171.55 116.08 L172.28 115.85 L173.02 115.61 L173.75 115.35 L174.49 115.10 L175.23 114.86 L175.96 114.62 L176.70 114.39 L177.43 114.19 L178.17 114.00 L178.90 113.83 L179.64 113.69 L180.38 113.57 L181.11 113.49 L181.85 113.43 L182.58 113.40 L183.32 113.40 L184.05 113.44 L184.79 113.51 L185.53 113.61 L186.26 113.74 L187.00 113.91 L187.73 114.10 L188.47 114.33 L189.20 114.60 L189.94 114.89 L190.68 115.22 L191.41 115.57 L192.15 115.96 L192.88 116.37 L193.62 116.82 L194.35 117.29 L195.09 117.78 L195.83 118.31 L196.56 118.85 L197.30 119.43 L198.03 120.02 L198.77 120.64 L199.51 121.28 L200.24 121.94 L200.98 122.62 L201.71 123.32 L202.45 124.04 L203.18 124.77 L203.92 125.52 L204.66 126.29 L205.39 127.07 L206.13 127.86 L206.86 128.67 L207.60 129.49 L208.33 130.33 L209.07 131.17 L209.81 132.03 L210.54 132.89 L211.28 133.76 L212.01 134.65 L212.75 135.54 L213.48 136.43 L214.22 137.34 L214.96 138.25 L215.69 139.16 L216.43 140.08 L217.16 141.01 L217.90 141.94 L218.63 142.87 L219.37 143.81 L220.11 144.75 L220.84 145.69 L221.58 146.64 L222.31 147.58 L223.05 148.53 L223.78 149.48 L224.52 150.43 L225.26 151.38 L225.99 152.33 L226.73 153.27 L227.46 154.22 L228.20 155.17 L228.93 156.12 L229.67 157.06 L230.41 158.01 L231.14 158.95 L231.88 159.89 L232.61 160.82 L233.35 161.76 L234.08 162.69 L234.82 163.62 L235.56 164.55 L236.29 165.47 L237.03 166.40 L237.76 167.31 L238.50 168.23 L239.24 169.14 L239.97 170.05 L240.71 170.95 L241.44 171.85 L242.18 172.75 L242.91 173.64 L243.65 174.52 L244.39 175.41 L245.12 176.29 L245.86 177.16 L246.59 178.03 L247.33 178.90 L248.06 179.76 L248.80 180.62 L249.54 181.47 L250.27 182.32 L251.01 183.16 L251.74 184.00 L252.48 184.83 L253.21 185.66 L253.95 186.48 L254.69 187.30 L255.42 188.12 L256.16 188.93 L256.89 189.73 L257.63 190.53 L258.36 191.32 L259.10 192.11 L259.84 192.90 L260.57 193.68 L261.31 194.45 L262.04 195.22 L262.78 195.99 L263.51 196.75 L264.25 197.51 L264.99 198.26 L265.72 199.00 L266.46 199.74 L267.19 200.48 L267.93 201.21 L268.66 201.94 L269.40 202.66 L270.14 203.38 L270.87 204.09 L271.61 204.80 L272.34 205.50 L273.08 206.20 L273.81 206.89 L274.55 207.58 L275.29 208.26 L276.02 208.94 L276.76 209.62 L277.49 210.29 L278.23 210.95 L278.97 211.61 L279.70 212.27 L280.44 212.92 L281.17 213.57 L281.91 214.21 L282.64 214.85 L283.38 215.49 L284.12 216.12 L284.85 216.74 L285.59 217.36 L286.32 217.98 L287.06 218.60 L287.79 219.20 L288.53 219.81 L289.27 220.41 L290.00 221.01 L290.74 221.60 L291.47 222.19 L292.21 222.77 L292.94 223.35 L293.68 223.93 L294.42 224.50 L295.15 225.07 L295.89 225.63 L296.62 226.20 L297.36 226.75 L298.09 227.31 L298.83 227.86 L299.57 228.40 L300.30 228.94 L301.04 229.48 L301.77 230.02 L302.51 230.55 L303.24 231.08 L303.98 231.60 L304.72 232.12 L305.45 232.64 L306.19 233.15 L306.92 233.66 L307.66 234.17 L308.39 234.67 L309.13 235.17 L309.87 235.66 L310.60 236.16 L311.34 236.65 L312.07 237.13 L312.81 237.62 L313.54 238.10 L314.28 238.57 L315.02 239.05 L315.75 239.52 L316.49 239.99 L317.22 240.45 L317.96 240.91 L318.70 241.37 L319.43 241.82 L320.17 242.28 L320.90 242.72 L321.64 243.17 L322.37 243.61 L323.11 244.05 L323.85 244.49 L324.58 244.93 L325.32 245.36 L326.05 245.79 L326.79 246.21 L327.52 246.64 L328.26 247.06 L329.00 247.48 L329.73 247.89 L330.47 248.30 L331.20 248.71 L331.94 249.12 L332.67 249.52 L333.41 249.93 L334.15 250.33 L334.88 250.72 L335.62 251.12 L336.35 251.51 L337.09 251.90 L337.82 252.28 L338.56 252.67 L339.30 253.05 L340.03 253.43 L340.77 253.81 L341.50 254.18 L342.24 254.56 L342.97 254.93 L343.71 255.29 L344.45 255.66 L345.18 256.02 L345.92 256.38 L346.65 256.74 L347.39 257.10 L348.12 257.45 L348.86 257.80 L349.60 258.15 L350.33 258.50 L351.07 258.85 L351.80 259.19 L352.54 259.53 L353.27 259.87 L354.01 260.21 L354.75 260.54 L355.48 260.88 L356.22 261.21 L356.95 261.54 L357.69 261.86 L358.43 262.19 L359.16 262.51 L359.90 262.83 L360.63 263.15 L361.37 263.47 L362.10 263.78 L362.84 264.10 L363.58 264.41 L364.31 264.72 L365.05 265.03 L365.78 265.33 L366.52 265.64 L367.25 265.94 L367.99 266.24 L368.73 266.54 L369.46 266.84 L370.20 267.13 L370.93 267.43 L371.67 267.72 L372.40 268.01 L373.14 268.30 L373.88 268.58 L374.61 268.87 L375.35 269.15 L376.08 269.43 L376.82 269.71 L377.55 269.99 L378.29 270.27 L379.03 270.54 L379.76 270.82 L380.50 271.09 L381.23 271.36 L381.97 271.63 L382.70 271.90 L383.44 272.16 L384.18 272.43 L384.91 272.69 L385.65 272.95 L386.38 273.21 L387.12 273.47 L387.85 273.73 L388.59 273.98 L389.33 274.24 L390.06 274.49 L390.80 274.74 L391.53 274.99 L392.27 275.24 L393.00 275.49 L393.74 275.73 L394.48 275.98 L395.21 276.22 L395.95 276.46 L396.68 276.70 L397.42 276.94 L398.16 277.18 L398.89 277.41 L399.63 277.65 L400.36 277.88 L401.10 278.11 L401.83 278.35 L402.57 278.58 L403.31 278.80 L404.04 279.03 L404.78 279.26 L405.51 279.48 L406.25 279.71 L406.98 279.93 L407.72 280.15 L408.46 280.37 L409.19 280.59 L409.93 280.81 L410.66 281.02 L411.40 281.24 L412.13 281.45 L412.87 281.67 L413.61 281.88 L414.34 282.09 L415.08 282.30 L415.81 282.51 L416.55 282.71 L417.28 282.92 L418.02 283.13 L418.76 283.33 L419.49 283.53 L420.23 283.74 L420.96 283.94 L421.70 284.14 L422.43 284.34 L423.17 284.53 L423.91 284.73 L424.64 284.93 L425.38 285.12 L426.11 285.31 L426.85 285.51 L427.58 285.70 L428.32 285.89 L429.06 286.08 L429.79 286.27 L430.53 286.46 L431.26 286.64 L432.00 286.83 L432.73 287.01 L433.47 287.20 L434.21 287.38 L434.94 287.56 L435.68 287.74 L436.41 287.92 L437.15 288.10 L437.88 288.28 L438.62 288.46 L439.36 288.64 L440.09 288.81 L440.83 288.99 L441.56 289.16 L442.30 289.33 L443.04 289.51 L443.77 289.68 L444.51 289.85 L445.24 290.02 L445.98 290.19 L446.71 290.35 L447.45 290.52 L448.19 290.69 L448.92 290.85 L449.66 291.02 L450.39 291.18 L451.13 291.34 L451.86 291.51 L452.60 291.67 L453.34 291.83 L454.07 291.99 L454.81 292.15 L455.54 292.31 L456.28 292.46 L457.01 292.62 L457.75 292.78 L458.49 292.93 L459.22 293.09 L459.96 293.24 L460.69 293.39 L461.43 293.54 L462.16 293.70 L462.90 293.85 L463.64 294.00 L464.37 294.15 L465.11 294.29 L465.84 294.44 L466.58 294.59 L467.31 294.74 L468.05 294.88 L468.79 295.03 L469.52 295.17 L470.26 295.31 L470.99 295.46 L471.73 295.60 L472.46 295.74 L473.20 295.88 L473.94 296.02 L474.67 296.16 L475.41 296.30 L476.14 296.44 L476.88 296.58 L477.61 296.71 L478.35 296.85 L479.09 296.99 L479.82 297.12 L480.56 297.26 L481.29 297.39 L482.03 297.52 L482.77 297.66 L483.50 297.79 L484.24 297.92 L484.97 298.05 L485.71 298.18 L486.44 298.31 L487.18 298.44 L487.92 298.57 L488.65 298.70 L489.39 298.82 L490.12 298.95 L490.86 299.08 L491.59 299.20 L492.33 299.33 L493.07 299.45 L493.80 299.57 L494.54 299.70 L495.27 299.82 L496.01 299.94 L496.74 300.06 L497.48 300.19 L498.22 300.31 L498.95 300.43 L499.69 300.54 L500.42 300.66 L501.16 300.78 L501.89 300.90 L502.63 301.02 L503.37 301.13 L504.10 301.25 L504.84 301.37 L505.57 301.48 L506.31 301.60 L507.04 301.71 L507.78 301.82 L508.52 301.94 L509.25 302.05 L509.99 302.16 L510.72 302.27 L511.46 302.38 L512.19 302.50 L512.93 302.61 L513.67 302.72 L514.40 302.82 L515.14 302.93 L515.87 303.04 L516.61 303.15 L517.34 303.26 L518.08 303.36 L518.82 303.47 L519.55 303.58 L520.29 303.68 L521.02 303.79 L521.76 303.89 L522.50 304.00 L523.23 304.10 L523.97 304.20 L524.70 304.31 L525.44 304.41 L526.17 304.51 L526.91 304.61 L527.65 304.71 L528.38 304.81 L529.12 304.91 L529.85 305.01 L530.59 305.11 L531.32 305.21 L532.06 305.31 L532.80 305.41 L533.53 305.51 L534.27 305.60 L535.00 305.70 L535.74 305.80 L536.47 305.89 L537.21 305.99 L537.95 306.08 L538.68 306.18 L539.42 306.27 L540.15 306.37 L540.89 306.46 L541.62 306.55 L542.36 306.65 L543.10 306.74 L543.83 306.83 L544.57 306.92 L545.30 307.01 L546.04 307.11 L546.77 307.20 L547.51 307.29 L548.25 307.38 L548.98 307.47 L549.72 307.56 L550.45 307.64 L551.19 307.73 L551.92 307.82 L552.66 307.91 L553.40 308.00 L554.13 308.08 L554.87 308.17 L555.60 308.26 L556.34 308.34 L557.07 308.43 L557.81 308.51 L558.55 308.60 L559.28 308.68 L560.02 308.77 L560.75 308.85 L561.49 308.93 L562.23 309.02 L562.96 309.10 L563.70 309.18 L564.43 309.26 L565.17 309.35 L565.90 309.43 L566.64 309.51 L567.38 309.59 L568.11 309.67 L568.85 309.75 L569.58 309.83" stroke="#00a800" stroke-width="2.85"/>
<path d="M152.42 -14.13 L153.15 -4.20 L153.89 4.68 L154.62 12.62 L155.36 19.69 L156.10 25.98 L156.83 31.57 L157.57 36.51 L158.30 40.88 L159.04 44.72 L159.78 48.09 L160.51 51.03 L161.25 53.58 L161.98 55.79 L162.72 57.68 L163.45 59.30 L164.19 60.67 L164.93 61.83 L165.66 62.80 L166.40 63.61 L167.13 64.29 L167.87 64.85 L168.60 65.32 L169.34 65.70 L170.08 66.03 L170.81 66.31 L171.55 66.55 L172.28 66.76 L173.02 66.95 L173.75 67.14 L174.49 67.31 L175.23 67.49 L175.96 67.67 L176.70 67.86 L177.43 68.06 L178.17 68.28 L178.90 68.51 L179.64 68.76 L180.38 69.04 L181.11 69.34 L181.85 69.66 L182.58 70.01 L183.32 70.39 L184.05 70.79 L184.79 71.22 L185.53 71.68 L186.26 72.17 L187.00 72.69 L187.73 73.23 L188.47 73.81 L189.20 74.41 L189.94 75.04 L190.68 75.70 L191.41 76.39 L192.15 77.10 L192.88 77.83 L193.62 78.59 L194.35 79.38 L195.09 80.19 L195.83 81.02 L196.56 81.87 L197.30 82.75 L198.03 83.64 L198.77 84.55 L199.51 85.48 L200.24 86.43 L200.98 87.40 L201.71 88.38 L202.45 89.37 L203.18 90.39 L203.92 91.41 L204.66 92.45 L205.39 93.50 L206.13 94.56 L206.86 95.63 L207.60 96.71 L208.33 97.80 L209.07 98.89 L209.81 100.00 L210.54 101.11 L211.28 102.23 L212.01 103.36 L212.75 104.49 L213.48 105.63 L214.22 106.77 L214.96 107.91 L215.69 109.06 L216.43 110.21 L217.16 111.36 L217.90 112.51 L218.63 113.67 L219.37 114.83 L220.11 115.98 L220.84 117.14 L221.58 118.30 L222.31 119.46 L223.05 120.61 L223.78 121.77 L224.52 122.92 L225.26 124.07 L225.99 125.22 L226.73 126.37 L227.46 127.52 L228.20 128.66 L228.93 129.80 L229.67 130.94 L230.41 132.07 L231.14 133.20 L231.88 134.33 L232.61 135.45 L233.35 136.57 L234.08 137.68 L234.82 138.79 L235.56 139.89 L236.29 140.99 L237.03 142.09 L237.76 143.18 L238.50 144.26 L239.24 145.34 L239.97 146.42 L240.71 147.49 L241.44 148.55 L242.18 149.61 L242.91 150.66 L243.65 151.71 L244.39 152.75 L245.12 153.79 L245.86 154.82 L246.59 155.84 L247.33 156.86 L248.06 157.87 L248.80 158.88 L249.54 159.88 L250.27 160.88 L251.01 161.86 L251.74 162.85 L252.48 163.82 L253.21 164.79 L253.95 165.76 L254.69 166.72 L255.42 167.67 L256.16 168.62 L256.89 169.56 L257.63 170.49 L258.36 171.42 L259.10 172.34 L259.84 173.25 L260.57 174.16 L261.31 175.07 L262.04 175.97 L262.78 176.86 L263.51 177.74 L264.25 178.62 L264.99 179.50 L265.72 180.36 L266.46 181.23 L267.19 182.08 L267.93 182.93 L268.66 183.78 L269.40 184.62 L270.14 185.45 L270.87 186.27 L271.61 187.10 L272.34 187.91 L273.08 188.72 L273.81 189.53 L274.55 190.32 L275.29 191.12 L276.02 191.91 L276.76 192.69 L277.49 193.46 L278.23 194.24 L278.97 195.00 L279.70 195.76 L280.44 196.52 L281.17 197.27 L281.91 198.01 L282.64 198.75 L283.38 199.48 L284.12 200.21 L284.85 200.94 L285.59 201.66 L286.32 202.37 L287.06 203.08 L287.79 203.78 L288.53 204.48 L289.27 205.18 L290.00 205.86 L290.74 206.55 L291.47 207.23 L292.21 207.90 L292.94 208.57 L293.68 209.24 L294.42 209.90 L295.15 210.55 L295.89 211.21 L296.62 211.85 L297.36 212.50 L298.09 213.13 L298.83 213.77 L299.57 214.40 L300.30 215.02 L301.04 215.64 L301.77 216.26 L302.51 216.87 L303.24 217.48 L303.98 218.08 L304.72 218.68 L305.45 219.27 L306.19 219.87 L306.92 220.45 L307.66 221.03 L308.39 221.61 L309.13 222.19 L309.87 222.76 L310.60 223.33 L311.34 223.89 L312.07 224.45 L312.81 225.01 L313.54 225.56 L314.28 226.11 L315.02 226.65 L315.75 227.19 L316.49 227.73 L317.22 228.26 L317.96 228.79 L318.70 229.32 L319.43 229.84 L320.17 230.36 L320.90 230.87 L321.64 231.39 L322.37 231.90 L323.11 232.40 L323.85 232.90 L324.58 233.40 L325.32 233.90 L326.05 234.39 L326.79 234.88 L327.52 235.36 L328.26 235.85 L329.00 236.33 L329.73 236.80 L330.47 237.28 L331.20 237.75 L331.94 238.21 L332.67 238.68 L333.41 239.14 L334.15 239.59 L334.88 240.05 L335.62 240.50 L336.35 240.95 L337.09 241.40 L337.82 241.84 L338.56 242.28 L339.30 242.72 L340.03 243.15 L340.77 243.58 L341.50 244.01 L342.24 244.44 L342.97 244.86 L343.71 245.28 L344.45 245.70 L345.18 246.12 L345.92 246.53 L346.65 246.94 L347.39 247.35 L348.12 247.75 L348.86 248.16 L349.60 248.56 L350.33 248.96 L351.07 249.35 L351.80 249.74 L352.54 250.13 L353.27 250.52 L354.01 250.91 L354.75 251.29 L355.48 251.67 L356.22 252.05 L356.95 252.42 L357.69 252.80 L358.43 253.17 L359.16 253.54 L359.90 253.91 L360.63 254.27 L361.37 254.63 L362.10 254.99 L362.84 255.35 L363.58 255.71 L364.31 256.06 L365.05 256.41 L365.78 256.76 L366.52 257.11 L367.25 257.45 L367.99 257.80 L368.73 258.14 L369.46 258.48 L370.20 258.81 L370.93 259.15 L371.67 259.48 L372.40 259.81 L373.14 260.14 L373.88 260.47 L374.61 260.79 L375.35 261.12 L376.08 261.44 L376.82 261.76 L377.55 262.07 L378.29 262.39 L379.03 262.70 L379.76 263.01 L380.50 263.32 L381.23 263.63 L381.97 263.94 L382.70 264.24 L383.44 264.55 L384.18 264.85 L384.91 265.15 L385.65 265.44 L386.38 265.74 L387.12 266.04 L387.85 266.33 L388.59 266.62 L389.33 266.91 L390.06 267.20 L390.80 267.48 L391.53 267.77 L392.27 268.05 L393.00 268.33 L393.74 268.61 L394.48 268.89 L395.21 269.16 L395.95 269.44 L396.68 269.71 L397.42 269.98 L398.16 270.25 L398.89 270.52 L399.63 270.79 L400.36 271.05 L401.10 271.32 L401.83 271.58 L402.57 271.84 L403.31 272.10 L404.04 272.36 L404.78 272.62 L405.51 272.87 L406.25 273.13 L406.98 273.38 L407.72 273.63 L408.46 273.88 L409.19 274.13 L409.93 274.38 L410.66 274.62 L411.40 274.87 L412.13 275.11 L412.87 275.35 L413.61 275.59 L414.34 275.83 L415.08 276.07 L415.81 276.31 L416.55 276.54 L417.28 276.78 L418.02 277.01 L418.76 277.24 L419.49 277.47 L420.23 277.70 L420.96 277.93 L421.70 278.15 L422.43 278.38 L423.17 278.60 L423.91 278.83 L424.64 279.05 L425.38 279.27 L426.11 279.49 L426.85 279.71 L427.58 279.93 L428.32 280.14 L429.06 280.36 L429.79 280.57 L430.53 280.78 L431.26 280.99 L432.00 281.21 L432.73 281.41 L433.47 281.62 L434.21 281.83 L434.94 282.04 L435.68 282.24 L436.41 282.45 L437.15 282.65 L437.88 282.85 L438.62 283.05 L439.36 283.25 L440.09 283.45 L440.83 283.65 L441.56 283.84 L442.30 284.04 L443.04 284.24 L443.77 284.43 L444.51 284.62 L445.24 284.81 L445.98 285.00 L446.71 285.19 L447.45 285.38 L448.19 285.57 L448.92 285.76 L449.66 285.94 L450.39 286.13 L451.13 286.31 L451.86 286.50 L452.60 286.68 L453.34 286.86 L454.07 287.04 L454.81 287.22 L455.54 287.40 L456.28 287.58 L457.01 287.76 L457.75 287.93 L458.49 288.11 L459.22 288.28 L459.96 288.45 L460.69 288.63 L461.43 288.80 L462.16 288.97 L462.90 289.14 L463.64 289.31 L464.37 289.48 L465.11 289.65 L465.84 289.81 L466.58 289.98 L467.31 290.14 L468.05 290.31 L468.79 290.47 L469.52 290.64 L470.26 290.80 L470.99 290.96 L471.73 291.12 L472.46 291.28 L473.20 291.44 L473.94 291.60 L474.67 291.75 L475.41 291.91 L476.14 292.07 L476.88 292.22 L477.61 292.38 L478.35 292.53 L479.09 292.68 L479.82 292.84 L480.56 292.99 L481.29 293.14 L482.03 293.29 L482.77 293.44 L483.50 293.59 L484.24 293.73 L484.97 293.88 L485.71 294.03 L486.44 294.17 L487.18 294.32 L487.92 294.46 L488.65 294.61 L489.39 294.75 L490.12 294.89 L490.86 295.04 L491.59 295.18 L492.33 295.32 L493.07 295.46 L493.80 295.60 L494.54 295.74 L495.27 295.87 L496.01 296.01 L496.74 296.15 L497.48 296.28 L498.22 296.42 L498.95 296.56 L499.69 296.69 L500.42 296.82 L501.16 296.96 L501.89 297.09 L502.63 297.22 L503.37 297.35 L504.10 297.48 L504.84 297.61 L505.57 297.74 L506.31 297.87 L507.04 298.00 L507.78 298.13 L508.52 298.25 L509.25 298.38 L509.99 298.51 L510.72 298.63 L511.46 298.76 L512.19 298.88 L512.93 299.01 L513.67 299.13 L514.40 299.25 L515.14 299.37 L515.87 299.50 L516.61 299.62 L517.34 299.74 L518.08 299.86 L518.82 299.98 L519.55 300.10 L520.29 300.21 L521.02 300.33 L521.76 300.45 L522.50 300.57 L523.23 300.68 L523.97 300.80 L524.70 300.91 L525.44 301.03 L526.17 301.14 L526.91 301.26 L527.65 301.37 L528.38 301.48 L529.12 301.60 L529.85 301.71 L530.59 301.82 L531.32 301.93 L532.06 302.04 L532.80 302.15 L533.53 302.26 L534.27 302.37 L535.00 302.48 L535.74 302.59 L536.47 302.69 L537.21 302.80 L537.95 302.91 L538.68 303.01 L539.42 303.12 L540.15 303.23 L540.89 303.33 L541.62 303.44 L542.36 303.54 L543.10 303.64 L543.83 303.75 L544.57 303.85 L545.30 303.95 L546.04 304.05 L546.77 304.15 L547.51 304.26 L548.25 304.36 L548.98 304.46 L549.72 304.56 L550.45 304.66 L551.19 304.75 L551.92 304.85 L552.66 304.95 L553.40 305.05 L554.13 305.15 L554.87 305.24 L555.60 305.34 L556.34 305.44 L557.07 305.53 L557.81 305.63 L558.55 305.72 L559.28 305.82 L560.02 305.91 L560.75 306.00 L561.49 306.10 L562.23 306.19 L562.96 306.28 L563.70 306.38 L564.43 306.47 L565.17 306.56 L565.90 306.65 L566.64 306.74 L567.38 306.83 L568.11 306.92 L568.85 307.01 L569.58 307.10" stroke="#0000ff" stroke-width="2.85"/>
<path d="M55.30 -347.22 L55.94 -336.99 L56.59 -326.96 L57.23 -317.13 L57.87 -307.49 L58.52 -298.04 L59.16 -288.77 L59.81 -279.68 L60.45 -270.76 L61.09 -262.02 L61.74 -253.44 L62.38 -245.02 L63.02 -236.77 L63.67 -228.66 L64.31 -220.71 L64.95 -212.91 L65.60 -205.25 L66.24 -197.73 L66.89 -190.35 L67.53 -183.11 L68.17 -175.99 L68.82 -169.01 L69.46 -162.15 L70.10 -155.41 L70.75 -148.79 L71.39 -142.29 L72.04 -135.91 L72.68 -129.64 L73.32 -123.48 L73.97 -117.42 L74.61 -111.47 L75.25 -105.63 L75.90 -99.88 L76.54 -94.23 L77.18 -88.68 L77.83 -83.23 L78.47 -77.86 L79.12 -72.59 L79.76 -67.40 L80.40 -62.30 L81.05 -57.29 L81.69 -52.36 L82.33 -47.51 L82.98 -42.74 L83.62 -38.05 L84.26 -33.44 L84.91 -28.90 L85.55 -24.43 L86.20 -20.04 L86.84 -15.71 L87.48 -11.46 L88.13 -7.27 L88.77 -3.15 L89.41 0.90 L90.06 4.90 L90.70 8.83 L91.34 12.69 L91.99 16.50 L92.63 20.25 L93.28 23.94 L93.92 27.57 L94.56 31.15 L95.21 34.68 L95.85 38.15 L96.49 41.56 L97.14 44.93 L97.78 48.25 L98.43 51.51 L99.07 54.73 L99.71 57.90 L100.36 61.02 L101.00 64.10 L101.64 67.13 L102.29 70.12 L102.93 73.06 L103.57 75.96 L104.22 78.82 L104.86 81.64 L105.51 84.41 L106.15 87.15 L106.79 89.85 L107.44 92.51 L108.08 95.13 L108.72 97.72 L109.37 100.26 L110.01 102.78 L110.65 105.26 L111.30 107.70 L111.94 110.11 L112.59 112.48 L113.23 114.83 L113.87 117.14 L114.52 119.42 L115.16 121.67 L115.80 123.88 L116.45 126.07 L117.09 128.23 L117.73 130.36 L118.38 132.46 L119.02 134.53 L119.67 136.58 L120.31 138.59 L120.95 140.59 L121.60 142.55 L122.24 144.49 L122.88 146.40 L123.53 148.29 L124.17 150.16 L124.82 152.00 L125.46 153.81 L126.10 155.60 L126.75 157.37 L127.39 159.12 L128.03 160.85 L128.68 162.55 L129.32 164.23 L129.96 165.89 L130.61 167.53 L131.25 169.15 L131.90 170.74 L132.54 172.32 L133.18 173.88 L133.83 175.42 L134.47 176.94 L135.11 178.44 L135.76 179.92 L136.40 181.39 L137.04 182.83 L137.69 184.26 L138.33 185.68 L138.98 187.07 L139.62 188.45 L140.26 189.81 L140.91 191.15 L141.55 192.48 L142.19 193.80 L142.84 195.09 L143.48 196.37 L144.12 197.64 L144.77 198.89 L145.41 200.13 L146.06 201.35 L146.70 202.56 L147.34 203.76 L147.99 204.94 L148.63 206.10 L149.27 207.26 L149.92 208.40 L150.56 209.52 L151.20 210.64 L151.85 211.74 L152.49 212.83 L153.14 213.90 L153.78 214.97 L154.42 216.02 L155.07 217.06 L155.71 218.09 L156.35 219.10 L157.00 220.11 L157.64 221.10 L158.29 222.09 L158.93 223.06 L159.57 224.02 L160.22 224.97 L160.86 225.91 L161.50 226.84 L162.15 227.76 L162.79 228.68 L163.43 229.58 L164.08 230.47 L164.72 231.35 L165.37 232.22 L166.01 233.08 L166.65 233.93 L167.30 234.78 L167.94 235.61 L168.58 236.44 L169.23 237.26 L169.87 238.06 L170.51 238.86 L171.16 239.66 L171.80 240.44 L172.45 241.21 L173.09 241.98 L173.73 242.74 L174.38 243.49 L175.02 244.23 L175.66 244.97 L176.31 245.70 L176.95 246.42 L177.59 247.13 L178.24 247.84 L178.88 248.54 L179.53 249.23 L180.17 249.91 L180.81 250.59 L181.46 251.26 L182.10 251.93 L182.74 252.58 L183.39 253.23 L184.03 253.88 L184.68 254.52 L185.32 255.15 L185.96 255.77 L186.61 256.39 L187.25 257.01 L187.89 257.61 L188.54 258.21 L189.18 258.81 L189.82 259.40 L190.47 259.98 L191.11 260.56 L191.76 261.13 L192.40 261.70 L193.04 262.26 L193.69 262.82 L194.33 263.37 L194.97 263.91 L195.62 264.45 L196.26 264.99 L196.90 265.52 L197.55 266.04 L198.19 266.56 L198.84 267.08 L199.48 267.59 L200.12 268.09 L200.77 268.59 L201.41 269.09 L202.05 269.58 L202.70 270.06 L203.34 270.55 L203.98 271.02 L204.63 271.50 L205.27 271.97 L205.92 272.43 L206.56 272.89 L207.20 273.35 L207.85 273.80 L208.49 274.25 L209.13 274.69 L209.78 275.13 L210.42 275.57 L211.07 276.00 L211.71 276.42 L212.35 276.85 L213.00 277.27 L213.64 277.68 L214.28 278.10 L214.93 278.51 L215.57 278.91 L216.21 279.31 L216.86 279.71 L217.50 280.11 L218.15 280.50 L218.79 280.88 L219.43 281.27 L220.08 281.65 L220.72 282.03 L221.36 282.40 L222.01 282.77 L222.65 283.14 L223.29 283.51 L223.94 283.87 L224.58 284.23 L225.23 284.58 L225.87 284.93 L226.51 285.28 L227.16 285.63 L227.80 285.97 L228.44 286.31 L229.09 286.65 L229.73 286.98 L230.37 287.32 L231.02 287.64 L231.66 287.97 L232.31 288.29 L232.95 288.61 L233.59 288.93 L234.24 289.25 L234.88 289.56 L235.52 289.87 L236.17 290.18 L236.81 290.48 L237.46 290.79 L238.10 291.09 L238.74 291.38 L239.39 291.68 L240.03 291.97 L240.67 292.26 L241.32 292.55 L241.96 292.83 L242.60 293.12 L243.25 293.40 L243.89 293.68 L244.54 293.95 L245.18 294.23 L245.82 294.50 L246.47 294.77 L247.11 295.04 L247.75 295.30 L248.40 295.56 L249.04 295.83 L249.68 296.08 L250.33 296.34 L250.97 296.60 L251.62 296.85 L252.26 297.10 L252.90 297.35 L253.55 297.60 L254.19 297.84 L254.83 298.08 L255.48 298.33 L256.12 298.57 L256.76 298.80 L257.41 299.04 L258.05 299.27 L258.70 299.50 L259.34 299.73 L259.98 299.96 L260.63 300.19 L261.27 300.41 L261.91 300.64 L262.56 300.86 L263.20 301.08 L263.85 301.30 L264.49 301.51 L265.13 301.73 L265.78 301.94 L266.42 302.15 L267.06 302.36 L267.71 302.57 L268.35 302.78 L268.99 302.98 L269.64 303.19 L270.28 303.39 L270.93 303.59 L271.57 303.79 L272.21 303.99 L272.86 304.18 L273.50 304.38 L274.14 304.57 L274.79 304.76 L275.43 304.95 L276.07 305.14 L276.72 305.33 L277.36 305.52 L278.01 305.70 L278.65 305.89 L279.29 306.07 L279.94 306.25 L280.58 306.43 L281.22 306.61 L281.87 306.78 L282.51 306.96 L283.15 307.14 L283.80 307.31 L284.44 307.48 L285.09 307.65 L285.73 307.82 L286.37 307.99 L287.02 308.16 L287.66 308.32 L288.30 308.49 L288.95 308.65 L289.59 308.81 L290.24 308.97 L290.88 309.13 L291.52 309.29 L292.17 309.45 L292.81 309.61 L293.45 309.76 L294.10 309.92 L294.74 310.07 L295.38 310.22 L296.03 310.38 L296.67 310.53 L297.32 310.68 L297.96 310.82 L298.60 310.97 L299.25 311.12 L299.89 311.26 L300.53 311.41 L301.18 311.55 L301.82 311.69 L302.46 311.83 L303.11 311.97 L303.75 312.11 L304.40 312.25 L305.04 312.39 L305.68 312.52 L306.33 312.66 L306.97 312.79 L307.61 312.93 L308.26 313.06 L308.90 313.19 L309.54 313.32 L310.19 313.45 L310.83 313.58 L311.48 313.71 L312.12 313.84 L312.76 313.97 L313.41 314.09 L314.05 314.22 L314.69 314.34 L315.34 314.47 L315.98 314.59 L316.63 314.71 L317.27 314.83 L317.91 314.95 L318.56 315.07 L319.20 315.19 L319.84 315.31 L320.49 315.42 L321.13 315.54 L321.77 315.66 L322.42 315.77 L323.06 315.88 L323.71 316.00 L324.35 316.11 L324.99 316.22 L325.64 316.33 L326.28 316.44 L326.92 316.55 L327.57 316.66 L328.21 316.77 L328.85 316.88 L329.50 316.99 L330.14 317.09 L330.79 317.20 L331.43 317.30 L332.07 317.41 L332.72 317.51 L333.36 317.61 L334.00 317.72 L334.65 317.82 L335.29 317.92 L335.93 318.02 L336.58 318.12 L337.22 318.22 L337.87 318.32 L338.51 318.41 L339.15 318.51 L339.80 318.61 L340.44 318.70 L341.08 318.80 L341.73 318.89 L342.37 318.99 L343.01 319.08 L343.66 319.17 L344.30 319.27 L344.95 319.36 L345.59 319.45 L346.23 319.54 L346.88 319.63 L347.52 319.72 L348.16 319.81 L348.81 319.90 L349.45 319.99 L350.10 320.07 L350.74 320.16 L351.38 320.25 L352.03 320.33 L352.67 320.42 L353.31 320.50 L353.96 320.59 L354.60 320.67 L355.24 320.76 L355.89 320.84 L356.53 320.92 L357.18 321.00 L357.82 321.09 L358.46 321.17 L359.11 321.25 L359.75 321.33 L360.39 321.41 L361.04 321.49 L361.68 321.56 L362.32 321.64 L362.97 321.72 L363.61 321.80 L364.26 321.87 L364.90 321.95 L365.54 322.03 L366.19 322.10 L366.83 322.18 L367.47 322.25 L368.12 322.32 L368.76 322.40 L369.40 322.47 L370.05 322.54 L370.69 322.62 L371.34 322.69 L371.98 322.76 L372.62 322.83 L373.27 322.90 L373.91 322.97 L374.55 323.04 L375.20 323.11 L375.84 323.18 L376.49 323.25 L377.13 323.32 L377.77 323.39 L378.42 323.45 L379.06 323.52 L379.70 323.59 L380.35 323.65 L380.99 323.72 L381.63 323.79 L382.28 323.85 L382.92 323.92 L383.57 323.98 L384.21 324.04 L384.85 324.11 L385.50 324.17 L386.14 324.24 L386.78 324.30 L387.43 324.36 L388.07 324.42 L388.71 324.48 L389.36 324.55 L390.00 324.61 L390.65 324.67 L391.29 324.73 L391.93 324.79 L392.58 324.85 L393.22 324.91 L393.86 324.97 L394.51 325.02 L395.15 325.08 L395.79 325.14 L396.44 325.20 L397.08 325.26 L397.73 325.31 L398.37 325.37 L399.01 325.43 L399.66 325.48 L400.30 325.54 L400.94 325.59 L401.59 325.65 L402.23 325.70 L402.88 325.76 L403.52 325.81 L404.16 325.87 L404.81 325.92 L405.45 325.98 L406.09 326.03 L406.74 326.08 L407.38 326.13 L408.02 326.19 L408.67 326.24 L409.31 326.29 L409.96 326.34 L410.60 326.39 L411.24 326.44 L411.89 326.49 L412.53 326.55 L413.17 326.60 L413.82 326.65 L414.46 326.70 L415.10 326.74 L415.75 326.79 L416.39 326.84 L417.04 326.89 L417.68 326.94 L418.32 326.99 L418.97 327.04 L419.61 327.08 L420.25 327.13 L420.90 327.18 L421.54 327.22 L422.18 327.27 L422.83 327.32 L423.47 327.36 L424.12 327.41 L424.76 327.46 L425.40 327.50 L426.05 327.55 L426.69 327.59 L427.33 327.64 L427.98 327.68 L428.62 327.72 L429.27 327.77 L429.91 327.81 L430.55 327.86 L431.20 327.90 L431.84 327.94 L432.48 327.99 L433.13 328.03 L433.77 328.07 L434.41 328.11 L435.06 328.16 L435.70 328.20 L436.35 328.24 L436.99 328.28 L437.63 328.32 L438.28 328.36 L438.92 328.40 L439.56 328.44 L440.21 328.48 L440.85 328.52 L441.49 328.56 L442.14 328.60 L442.78 328.64 L443.43 328.68 L444.07 328.72 L444.71 328.76 L445.36 328.80 L446.00 328.84 L446.64 328.88 L447.29 328.92 L447.93 328.95 L448.57 328.99 L449.22 329.03 L449.86 329.07 L450.51 329.10 L451.15 329.14 L451.79 329.18 L452.44 329.22 L453.08 329.25 L453.72 329.29 L454.37 329.32 L455.01 329.36 L455.66 329.40 L456.30 329.43 L456.94 329.47 L457.59 329.50 L458.23 329.54 L458.87 329.57 L459.52 329.61 L460.16 329.64 L460.80 329.68 L461.45 329.71 L462.09 329.75 L462.74 329.78 L463.38 329.81 L464.02 329.85 L464.67 329.88 L465.31 329.91 L465.95 329.95 L466.60 329.98 L467.24 330.01 L467.88 330.05 L468.53 330.08 L469.17 330.11 L469.82 330.14 L470.46 330.18 L471.10 330.21 L471.75 330.24 L472.39 330.27 L473.03 330.30 L473.68 330.33 L474.32 330.37 L474.96 330.40 L475.61 330.43 L476.25 330.46 L476.90 330.49 L477.54 330.52 L478.18 330.55 L478.83 330.58 L479.47 330.61 L480.11 330.64 L480.76 330.67 L481.40 330.70 L482.05 330.73 L482.69 330.76 L483.33 330.79 L483.98 330.82 L484.62 330.85 L485.26 330.88 L485.91 330.90 L486.55 330.93 L487.19 330.96 L487.84 330.99 L488.48 331.02 L489.13 331.05 L489.77 331.07 L490.41 331.10 L491.06 331.13 L491.70 331.16 L492.34 331.18 L492.99 331.21 L493.63 331.24 L494.27 331.27 L494.92 331.29 L495.56 331.32 L496.21 331.35 L496.85 331.37 L497.49 331.40 L498.14 331.43 L498.78 331.45 L499.42 331.48 L500.07 331.50 L500.71 331.53 L501.35 331.56 L502.00 331.58 L502.64 331.61 L503.29 331.63 L503.93 331.66 L504.57 331.68 L505.22 331.71 L505.86 331.73 L506.50 331.76 L507.15 331.78 L507.79 331.81 L508.44 331.83 L509.08 331.86 L509.72 331.88 L510.37 331.90 L511.01 331.93 L511.65 331.95 L512.30 331.98 L512.94 332.00 L513.58 332.02 L514.23 332.05 L514.87 332.07 L515.52 332.09 L516.16 332.12 L516.80 332.14 L517.45 332.16 L518.09 332.19 L518.73 332.21 L519.38 332.23 L520.02 332.26 L520.66 332.28 L521.31 332.30 L521.95 332.32 L522.60 332.34 L523.24 332.37 L523.88 332.39 L524.53 332.41 L525.17 332.43 L525.81 332.45 L526.46 332.48 L527.10 332.50 L527.74 332.52 L528.39 332.54 L529.03 332.56 L529.68 332.58 L530.32 332.60 L530.96 332.63 L531.61 332.65 L532.25 332.67 L532.89 332.69 L533.54 332.71 L534.18 332.73 L534.82 332.75 L535.47 332.77 L536.11 332.79 L536.76 332.81 L537.40 332.83 L538.04 332.85 L538.69 332.87 L539.33 332.89 L539.97 332.91 L540.62 332.93 L541.26 332.95 L541.91 332.97 L542.55 332.99 L543.19 333.01 L543.84 333.03 L544.48 333.05 L545.12 333.07 L545.77 333.09 L546.41 333.11 L547.05 333.12 L547.70 333.14 L548.34 333.16 L548.99 333.18 L549.63 333.20 L550.27 333.22 L550.92 333.24 L551.56 333.26 L552.20 333.27 L552.85 333.29 L553.49 333.31 L554.13 333.33 L554.78 333.35 L555.42 333.36 L556.07 333.38 L556.71 333.40 L557.35 333.42 L558.00 333.44 L558.64 333.45 L559.28 333.47 L559.93 333.49 L560.57 333.51 L561.21 333.52 L561.86 333.54 L562.50 333.56 L563.15 333.57 L563.79 333.59 L564.43 333.61 L565.08 333.62 L565.72 333.64 L566.36 333.66 L567.01 333.68 L567.65 333.69 L568.30 333.71 L568.94 333.72 L569.58 333.74" stroke="#ff0000" stroke-width="2.85" stroke-dasharray="10.04 5.46" stroke-dashoffset="14.65"/>
<path d="M34.11 259.55 L210.50 259.55" stroke="#808080" stroke-width="2.9" stroke-dasharray="10.10 5.47"/>
</g>
<g stroke="#000000" stroke-width="0.90" stroke-opacity="0.6" fill="none">
<rect x="44.50" y="8.50" width="534.00" height="331.00"/>
<path d="M55.50 339.50 v-5.40 M55.50 8.50 v5.40 M80.50 339.50 v-3.20 M80.50 8.50 v3.20 M106.50 339.50 v-3.20 M106.50 8.50 v3.20 M132.50 339.50 v-3.20 M132.50 8.50 v3.20 M157.50 339.50 v-3.20 M157.50 8.50 v3.20 M183.50 339.50 v-5.40 M183.50 8.50 v5.40 M209.50 339.50 v-3.20 M209.50 8.50 v3.20 M234.50 339.50 v-3.20 M234.50 8.50 v3.20 M260.50 339.50 v-3.20 M260.50 8.50 v3.20 M286.50 339.50 v-3.20 M286.50 8.50 v3.20 M311.50 339.50 v-5.40 M311.50 8.50 v5.40 M337.50 339.50 v-3.20 M337.50 8.50 v3.20 M363.50 339.50 v-3.20 M363.50 8.50 v3.20 M388.50 339.50 v-3.20 M388.50 8.50 v3.20 M414.50 339.50 v-3.20 M414.50 8.50 v3.20 M439.50 339.50 v-5.40 M439.50 8.50 v5.40 M465.50 339.50 v-3.20 M465.50 8.50 v3.20 M491.50 339.50 v-3.20 M491.50 8.50 v3.20 M516.50 339.50 v-3.20 M516.50 8.50 v3.20 M542.50 339.50 v-3.20 M542.50 8.50 v3.20 M568.50 339.50 v-5.40 M568.50 8.50 v5.40 M44.50 328.18 h3.20 M578.50 328.18 h-3.20 M44.50 317.16 h3.20 M578.50 317.16 h-3.20 M44.50 306.14 h3.20 M578.50 306.14 h-3.20 M44.50 295.12 h3.20 M578.50 295.12 h-3.20 M44.50 284.10 h5.40 M578.50 284.10 h-5.40 M44.50 273.08 h3.20 M578.50 273.08 h-3.20 M44.50 262.06 h3.20 M578.50 262.06 h-3.20 M44.50 251.04 h3.20 M578.50 251.04 h-3.20 M44.50 240.02 h3.20 M578.50 240.02 h-3.20 M44.50 229.00 h5.40 M578.50 229.00 h-5.40 M44.50 217.98 h3.20 M578.50 217.98 h-3.20 M44.50 206.96 h3.20 M578.50 206.96 h-3.20 M44.50 195.94 h3.20 M578.50 195.94 h-3.20 M44.50 184.92 h3.20 M578.50 184.92 h-3.20 M44.50 173.90 h5.40 M578.50 173.90 h-5.40 M44.50 162.88 h3.20 M578.50 162.88 h-3.20 M44.50 151.86 h3.20 M578.50 151.86 h-3.20 M44.50 140.84 h3.20 M578.50 140.84 h-3.20 M44.50 129.82 h3.20 M578.50 129.82 h-3.20 M44.50 118.80 h5.40 M578.50 118.80 h-5.40 M44.50 107.78 h3.20 M578.50 107.78 h-3.20 M44.50 96.76 h3.20 M578.50 96.76 h-3.20 M44.50 85.74 h3.20 M578.50 85.74 h-3.20 M44.50 74.72 h3.20 M578.50 74.72 h-3.20 M44.50 63.70 h5.40 M578.50 63.70 h-5.40 M44.50 52.68 h3.20 M578.50 52.68 h-3.20 M44.50 41.66 h3.20 M578.50 41.66 h-3.20 M44.50 30.64 h3.20 M578.50 30.64 h-3.20 M44.50 19.62 h3.20 M578.50 19.62 h-3.20 M44.50 8.60 h5.40 M578.50 8.60 h-5.40"/>
</g>
<g id="txt">
<text class="tl" transform="translate(55.40 357.25) scale(0.930 1)" text-anchor="middle">100</text>
<text class="tl" transform="translate(183.65 357.25) scale(0.930 1)" text-anchor="middle">200</text>
<text class="tl" transform="translate(311.90 357.25) scale(0.930 1)" text-anchor="middle">300</text>
<text class="tl" transform="translate(440.15 357.25) scale(0.930 1)" text-anchor="middle">400</text>
<text class="tl" transform="translate(568.40 357.25) scale(0.930 1)" text-anchor="middle">500</text>
<text class="tl" transform="translate(38.50 343.30) scale(0.930 1)" text-anchor="end">0</text>
<text class="tl" transform="translate(38.50 288.20) scale(0.930 1)" text-anchor="end">1</text>
<text class="tl" transform="translate(38.50 233.10) scale(0.930 1)" text-anchor="end">2</text>
<text class="tl" transform="translate(38.50 178.00) scale(0.930 1)" text-anchor="end">3</text>
<text class="tl" transform="translate(38.50 122.90) scale(0.930 1)" text-anchor="end">4</text>
<text class="tl" transform="translate(38.50 67.80) scale(0.930 1)" text-anchor="end">5</text>
<text class="tl" transform="translate(38.80 12.00) scale(0.930 1)" text-anchor="end">6</text>
<text x="1.2" y="178.8" style="font-size:17.5px">V</text>
<text transform="translate(305.5 386.8) scale(1.17 1)" style="font-family:'Liberation Sans',sans-serif;font-size:15.2px;font-style:italic">σ</text>
<text x="77.7" y="302.8" style="font-size:18.5px;font-style:italic">V</text>
<text x="88.3" y="306.5" style="font-size:12.8px;font-style:italic">B</text>
</g>
<path d="M106.65 268.70 L106.65 330.10" stroke="#000" stroke-width="1.3" fill="none"/>
<path d="M106.65 259.50 L109.90 270.50 L106.65 269.20 L103.40 270.50 Z" fill="#000"/>
<path d="M106.65 339.30 L109.90 328.30 L106.65 329.60 L103.40 328.30 Z" fill="#000"/>
</svg>
</body></html>
